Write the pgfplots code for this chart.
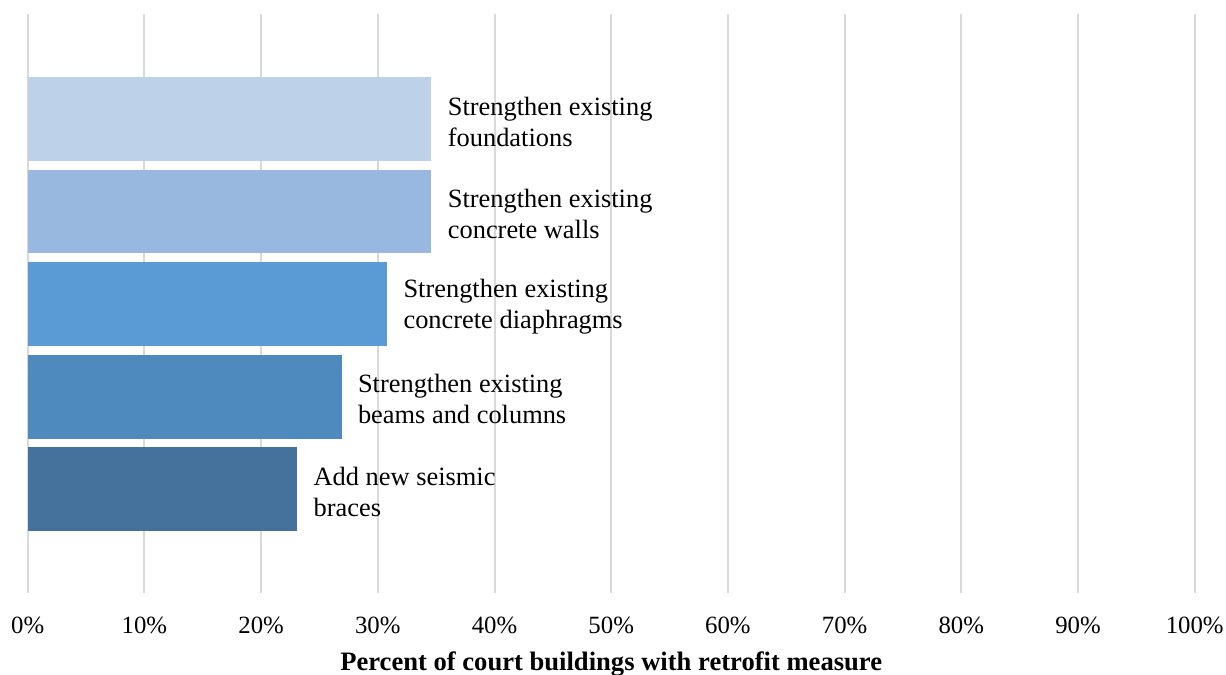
\documentclass[border=0pt]{standalone}
\usepackage{pgfplots}
\pgfplotsset{compat=1.18}
\usepackage{fontspec}
\setmainfont{Liberation Serif}

% bar shades, lightest on top
\definecolor{barA}{HTML}{BDD1E9}
\definecolor{barB}{HTML}{98B8DF}
\definecolor{barC}{HTML}{5B9BD5}
\definecolor{barD}{HTML}{4E8ABE}
\definecolor{barE}{HTML}{44729D}
\definecolor{gridgray}{HTML}{D9D9D9}

\begin{document}
\begin{tikzpicture}
\path[use as bounding box] (0,0) rectangle (613bp,337.5bp);
\begin{axis}[
  at={(13.85bp,41bp)}, anchor=south west,
  scale only axis, width=583.5bp, height=289.5bp,
  xmin=0, xmax=100, ymin=-0.124, ymax=6.135,
  xbar, bar width=0.908, bar shift=0pt,
  axis line style={draw=none},
  major tick style={draw=none},
  xtick={0,10,...,100},
  xticklabel={\pgfmathprintnumber{\tick}\%},
  ytick=\empty,
  xmajorgrids,
  grid style={color=gridgray, line width=1bp},
  /pgf/number format/assume math mode=true,
  xticklabel style={anchor=base, yshift=-20bp, font=\fontsize{12.4bp}{14bp}\selectfont},
  xlabel={Percent of court buildings with retrofit measure},
  xlabel style={at={(axis description cs:0.5,0)}, anchor=base, yshift=-38.5bp,
    font=\fontsize{13.3bp}{15bp}\selectfont\bfseries},
  every node near coord/.append style={align=left, anchor=west, inner sep=0pt,
    xshift=8bp, yshift=-1.3bp, text=black, font=\fontsize{13.2bp}{15.5bp}\selectfont},
]
% shares of the 26 court buildings with each measure
\addplot[fill=barA, draw=none, nodes near coords={Strengthen existing\\foundations}]
  coordinates {(34.6,5)};
\addplot[fill=barB, draw=none, nodes near coords={Strengthen existing\\concrete walls}]
  coordinates {(34.6,4)};
\addplot[fill=barC, draw=none, nodes near coords={Strengthen existing\\concrete diaphragms}]
  coordinates {(30.8,3)};
\addplot[fill=barD, draw=none, nodes near coords={Strengthen existing\\beams and columns}]
  coordinates {(26.9,2)};
\addplot[fill=barE, draw=none, nodes near coords={Add new seismic\\braces}]
  coordinates {(23.1,1)};
\end{axis}
\end{tikzpicture}
\end{document}
